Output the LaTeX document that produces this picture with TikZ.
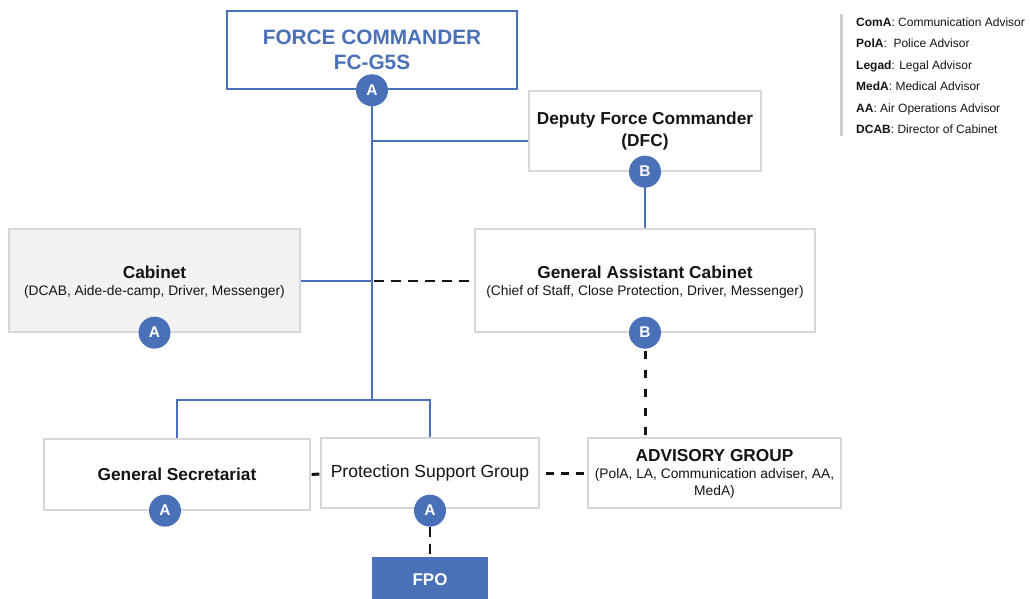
\documentclass[tikz,border=0pt]{standalone}
\usepackage{fontspec}
\setmainfont{Liberation Sans}
\usetikzlibrary{calc}
\definecolor{ublue}{RGB}{74,112,183}
\definecolor{bordergray}{RGB}{215,215,215}
\definecolor{cabfill}{RGB}{242,242,242}
\definecolor{txt}{RGB}{20,20,20}
\definecolor{leggray}{RGB}{205,205,205}
\begin{document}
\begin{tikzpicture}[x=1pt,y=-1pt,
  box/.style={draw=bordergray,line width=1.3pt,fill=white,rectangle,inner sep=0pt,align=center,text=txt},
  badge/.style={circle,fill=ublue,text=white,inner sep=0pt,minimum size=32pt,font=\fontsize{15.5}{15}\selectfont\bfseries},
  blueline/.style={draw=ublue,line width=2pt},
  dashline/.style={draw=txt,line width=2pt,dash pattern=on 10pt off 7pt},
  thickdash/.style={draw=txt,line width=3pt,dash pattern=on 8pt off 11pt},
  ttl/.style={font=\fontsize{17.3}{22}\selectfont\bfseries},
  sub/.style={font=\fontsize{13.8}{17}\selectfont},
  leg/.style={anchor=base west,font=\fontsize{12}{13}\selectfont,text=txt,inner sep=0pt}
]
\useasboundingbox (0,0) rectangle (1030,598);

% boxes
\node[box,draw=ublue,line width=2.5pt,minimum width=290pt,minimum height=78pt,text=ublue,font=\fontsize{20.8}{25}\selectfont\bfseries] (fc) at (372,50) {FORCE COMMANDER\\FC-G5S};
\node[box,minimum width=232pt,minimum height=80pt,font=\fontsize{17.3}{22}\selectfont\bfseries] (dfc) at (645,131) {Deputy Force Commander\\(DFC)};
\node[box,fill=cabfill,minimum width=291pt,minimum height=103pt] (cab) at (154.5,280.5) {};
\node[ttl,text=txt] (cabt) at (154.5,272) {Cabinet};
\node[sub,text=txt] (cabs) at (154.5,292) {(DCAB, Aide-de-camp, Driver, Messenger)};
\node[box,minimum width=340pt,minimum height=103pt] (gac) at (645,280.5) {};
\node[ttl,text=txt] (gact) at (645,272) {General Assistant Cabinet};
\node[sub,text=txt] (gacs) at (645,292) {(Chief of Staff, Close Protection, Driver, Messenger)};
\node[box,minimum width=266pt,minimum height=71pt,ttl] (gs) at (177,474.5) {General Secretariat};
\node[box,minimum width=218pt,minimum height=70pt,font=\fontsize{17.5}{20}\selectfont] (psg) at (430,473) {Protection Support Group};
\node[box,minimum width=253pt,minimum height=70pt] (adv) at (714.5,473) {};
\node[ttl,text=txt] (advt) at (714.5,456) {ADVISORY GROUP};
\node[text=txt,align=center,font=\fontsize{13.8}{17}\selectfont] (advs) at (714.5,483) {(PolA, LA, Communication adviser, AA,\\MedA)};
\node[rectangle,fill=ublue,minimum width=116pt,minimum height=46pt,inner sep=0pt,text=white,font=\fontsize{17}{20}\selectfont\bfseries] (fpo) at (430,580) {FPO};

% connector coordinates
\coordinate (fcbase) at (fc.south);
\coordinate (jbot) at (372,400);
\path (dfc.west) ++(0,10) coordinate (dfcin);

% connectors
\draw[blueline] (fcbase) -- (jbot);
\draw[blueline] (fcbase |- dfcin) -- (dfcin);
\draw[blueline] (dfc.south) -- (gac.north);
\draw[blueline] (cab.east) -- (cab.east -| fcbase);
\draw[dashline] (cab.east -| fcbase) ++(1.5,0) -- (gac.west);
\draw[blueline] (gs.north) |- (jbot) -| (psg.north);
\draw[thickdash] (gac.south) ++(0,18) -- (gac.south |- adv.north);
\draw[draw=txt,line width=3pt] (gs.east) ++(1,0) -- ($(psg.west)+(-1,1)$);
\draw[thickdash,dash pattern=on 8pt off 7pt] (psg.east) ++(6,0) -- (adv.west);
\draw[dashline] (psg.south) ++(0,18) -- (fpo.north);

% badges
\node[badge] (fcA) at (fc.south) {A};
\node[badge] (dfcB) at (dfc.south) {B};
\node[badge] (cabA) at (cab.south) {A};
\node[badge] (gacB) at (gac.south) {B};
\node[badge] (gsA) at ($(gs.south)+(-12,0)$) {A};
\node[badge] (psgA) at ($(psg.south)+(0,2)$) {A};

% legend
\fill[leggray] (840,14) rectangle (843,136);
\node[leg] (l1) at (856,26.5) {\textbf{ComA}: Communication Advisor};
\node[leg] (l2) at (856,47.9) {\textbf{PolA}:\ \ Police Advisor};
\node[leg] (l3) at (856,69.3) {\textbf{Legad}: Legal Advisor};
\node[leg] (l4) at (856,90.7) {\textbf{MedA}: Medical Advisor};
\node[leg] (l5) at (856,112.1) {\textbf{AA}: Air Operations Advisor};
\node[leg] (l6) at (856,133.5) {\textbf{DCAB}: Director of Cabinet};
\end{tikzpicture}
\end{document}
